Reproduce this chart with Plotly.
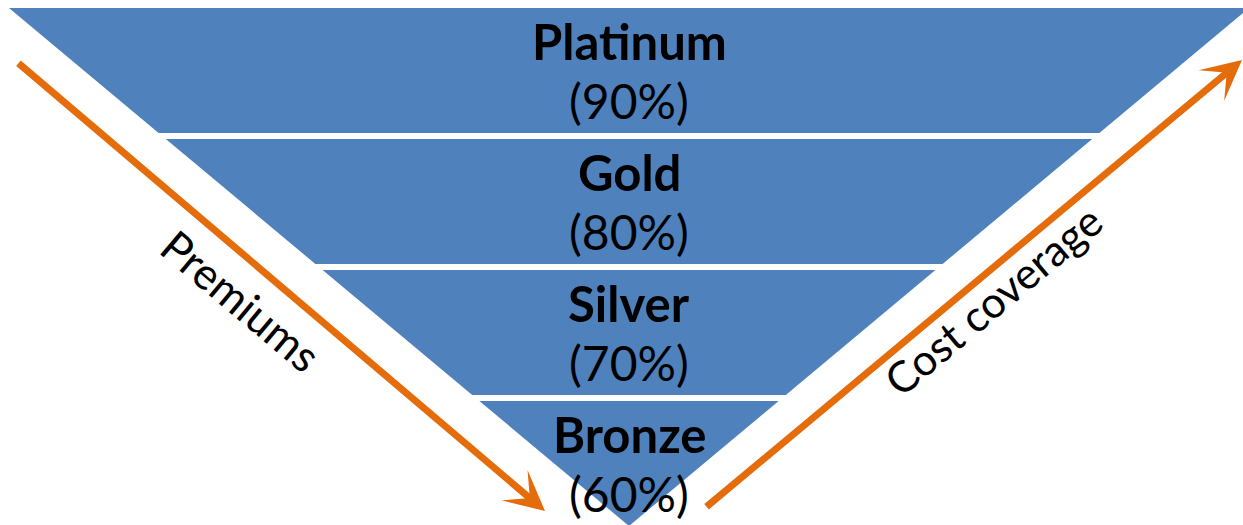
import plotly.graph_objects as go

# ---- data ----
tiers = ["Platinum", "Gold", "Silver", "Bronze"]
coverage = [90, 80, 70, 60]
left_label = "Premiums"
right_label = "Cost coverage"

# ---- layout constants (pixel space) ----
W, H = 1243, 525
BLUE = "#4F81BD"
ORANGE = "#E46C0A"
FONT = "Lato"
top_y, apex_y, apex_x = 8, 526, 629
top_half = 620
band_h, gap = 125, 6

def half_width(y):
    return top_half * (apex_y - y) / (apex_y - top_y)

fig = go.Figure()
annotations = []
for i, (name, pct) in enumerate(zip(tiers, coverage)):
    yt = top_y + i * (band_h + gap)
    yb = min(yt + band_h, apex_y)
    ht, hb = half_width(yt), half_width(yb)
    fig.add_trace(go.Scatter(
        x=[apex_x - ht, apex_x + ht, apex_x + hb, apex_x - hb, apex_x - ht],
        y=[yt, yt, yb, yb, yt],
        mode="lines", fill="toself", fillcolor=BLUE,
        line=dict(width=0, color=BLUE), hoverinfo="skip", showlegend=False))
    annotations.append(dict(x=apex_x, y=yt + 33, text=f"<b>{name}</b>",
                            showarrow=False, xanchor="center", yanchor="middle",
                            font=dict(family=FONT, size=49, color="black")))
    annotations.append(dict(x=apex_x, y=yt + 92, text=f"({pct}%)",
                            showarrow=False, xanchor="center", yanchor="middle",
                            font=dict(family=FONT, size=48, color="black")))

# arrows
arrow_common = dict(text="", showarrow=True, arrowhead=3, arrowwidth=7, arrowsize=0.95,
                    arrowcolor=ORANGE, axref="x", ayref="y", xref="x", yref="y",
                    standoff=0, startstandoff=0)
annotations.append(dict(x=545, y=511, ax=17, ay=62, **arrow_common))
annotations.append(dict(x=1242, y=60, ax=705, ay=508, **arrow_common))

# side labels
annotations.append(dict(x=241, y=300, text=left_label, showarrow=False, textangle=40,
                        xanchor="center", yanchor="middle",
                        font=dict(family=FONT, size=44, color="black")))
annotations.append(dict(x=992, y=300, text=right_label, showarrow=False, textangle=-40,
                        xanchor="center", yanchor="middle",
                        font=dict(family=FONT, size=43, color="black")))

fig.update_layout(
    width=W, height=H, margin=dict(l=0, r=0, t=0, b=0),
    paper_bgcolor="white", plot_bgcolor="white",
    xaxis=dict(range=[0, W], visible=False, fixedrange=True),
    yaxis=dict(range=[H, 0], visible=False, fixedrange=True),
    annotations=annotations, showlegend=False)

fig.write_html("out.html")
